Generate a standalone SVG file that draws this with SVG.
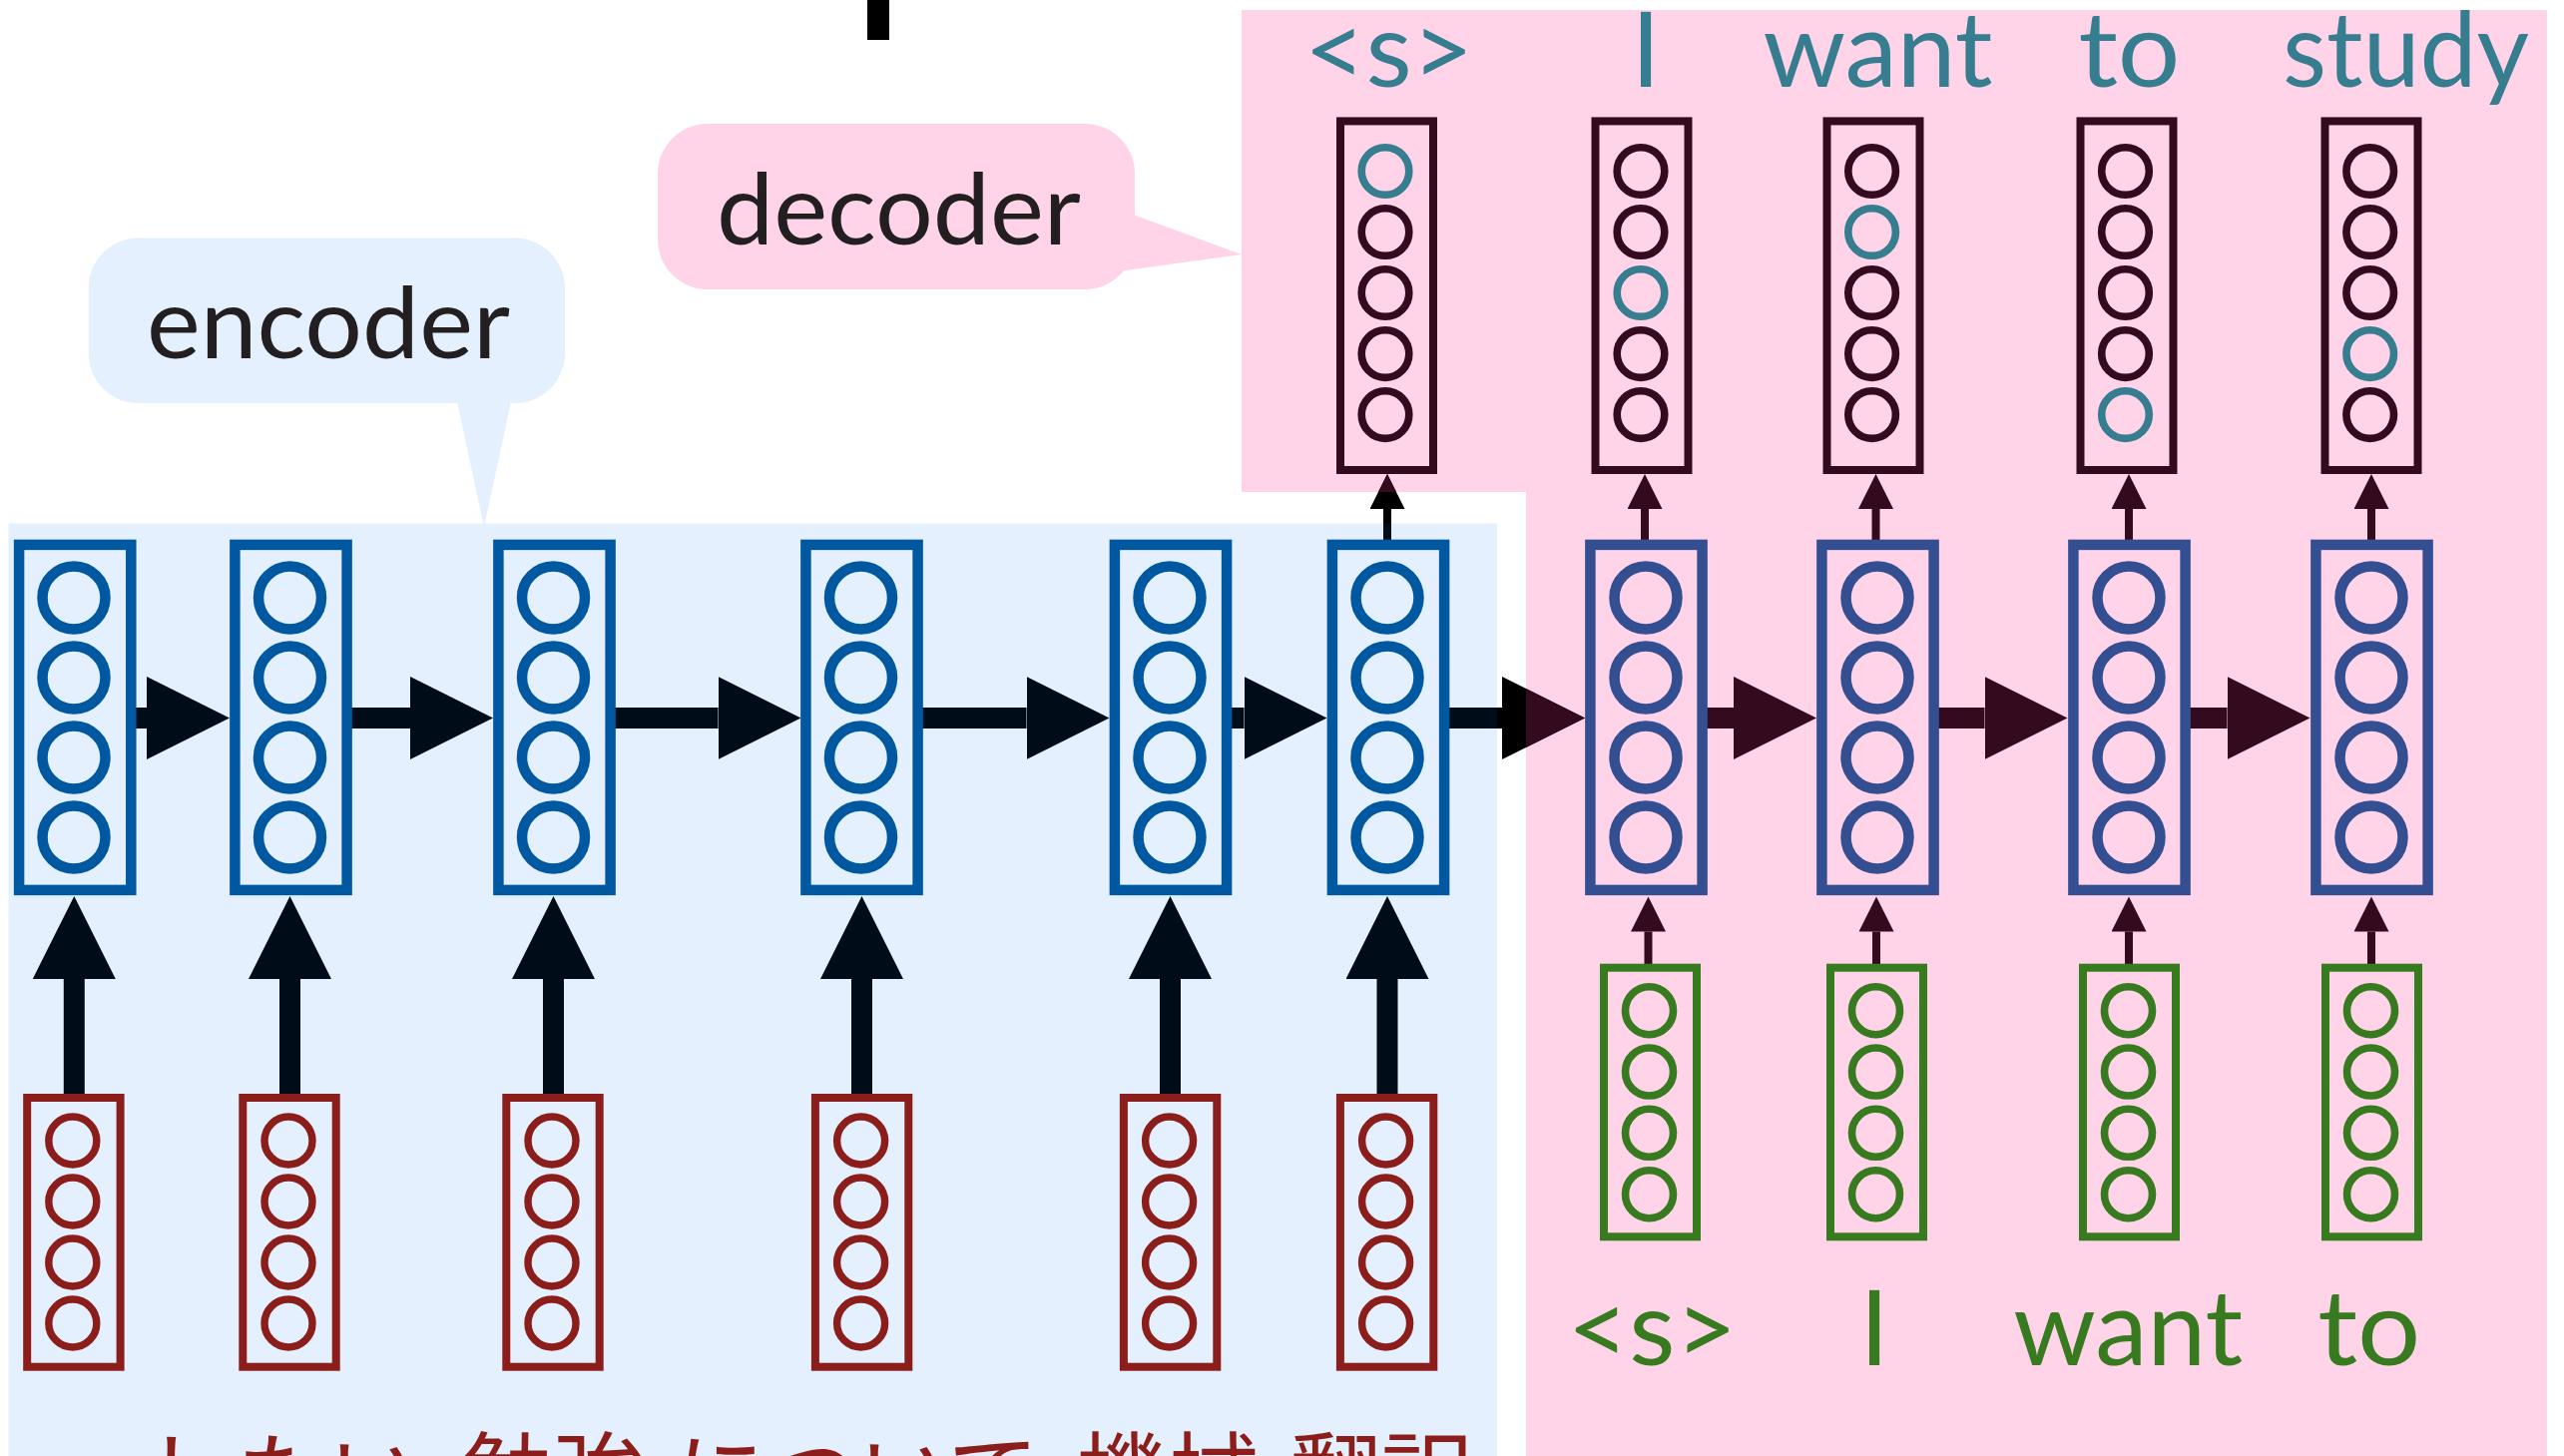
<svg xmlns="http://www.w3.org/2000/svg" width="2569" height="1459" viewBox="0 0 2569 1459">
  <style>
    .lat { font-family: Lato, "Open Sans", "Noto Sans", sans-serif; }
    .bubble-text { font-size: 98px; fill: #231f20; }
    .word { font-size: 104px; }
    .out-word { fill: #357d8f; }
    .in-word { fill: #377a1f; }
    .ja { font-family: "Noto Sans CJK JP", "Noto Sans CJK SC", sans-serif; font-size: 92px; fill: #8b1e1a; }
    .enc-box, .enc-unit { fill: none; stroke: #0059a0; stroke-width: 10.5; }
    .dec-box, .dec-unit { fill: none; stroke: #344e92; stroke-width: 10.5; }
    .src-box { fill: none; stroke: #8b1e1a; stroke-width: 8; }
    .src-unit { fill: none; stroke: #8b1e1a; stroke-width: 7.4; }
    .tgt-box { fill: none; stroke: #377a1f; stroke-width: 8; }
    .tgt-unit { fill: none; stroke: #377a1f; stroke-width: 7.6; }
    .out-box { fill: none; stroke: #330a1e; stroke-width: 8; }
    .out-unit { fill: none; stroke: #330a1e; stroke-width: 7.6; }
    .out-unit.hot { stroke: #357d8f; }
    .thick { stroke-width: 21; fill: none; }
    .thin { stroke-width: 8; fill: none; }
    .c-enc { stroke: #000d18; }
    .c-blk { stroke: #000000; }
    .c-dec { stroke: #330a1e; }
  </style>
  <defs>
    <marker id="headThickEnc" markerUnits="userSpaceOnUse" markerWidth="84" markerHeight="84" refX="0" refY="41.5" orient="auto">
      <path d="M0,0 L83,41.5 L0,83 Z" fill="#000d18"/>
    </marker>
    <marker id="headThickBlk" markerUnits="userSpaceOnUse" markerWidth="84" markerHeight="84" refX="0" refY="41.5" orient="auto">
      <path d="M0,0 L83,41.5 L0,83 Z" fill="#000000"/>
    </marker>
    <marker id="headThickDec" markerUnits="userSpaceOnUse" markerWidth="84" markerHeight="84" refX="0" refY="41.5" orient="auto">
      <path d="M0,0 L83,41.5 L0,83 Z" fill="#330a1e"/>
    </marker>
    <marker id="headThinEnc" markerUnits="userSpaceOnUse" markerWidth="36" markerHeight="36" refX="0" refY="17.5" orient="auto">
      <path d="M0,0 L35,17.5 L0,35 Z" fill="#000d18"/>
    </marker>
    <marker id="headThinBlk" markerUnits="userSpaceOnUse" markerWidth="36" markerHeight="36" refX="0" refY="17.5" orient="auto">
      <path d="M0,0 L35,17.5 L0,35 Z" fill="#000000"/>
    </marker>
    <marker id="headThinDec" markerUnits="userSpaceOnUse" markerWidth="36" markerHeight="36" refX="0" refY="17.5" orient="auto">
      <path d="M0,0 L35,17.5 L0,35 Z" fill="#330a1e"/>
    </marker>
    <clipPath id="clipBlue"><rect x="8.5" y="524.5" width="1491.5" height="940"/></clipPath>
    <clipPath id="clipPink"><polygon points="1244,10 2552,10 2552,1465 1529,1465 1529,493 1244,493"/></clipPath>
  </defs>

  <rect width="2569" height="1459" fill="#ffffff"/>

  <!-- shaded panels -->
  <g id="panels">
    <rect id="encoder-panel" x="8.5" y="524.5" width="1491.5" height="940" fill="#e4f0fd"/>
    <polygon id="decoder-panel" points="1244,10 2552,10 2552,1465 1529,1465 1529,493 1244,493" fill="#ffd4e8"/>
  </g>

  <rect id="top-bar" x="869" y="0" width="22" height="40" fill="#000000"/>

  <!-- callouts -->
  <g id="encoder-callout">
    <rect x="88.7" y="238.6" width="477.3" height="165.4" rx="50" fill="#e4f0fd"/>
    <polygon points="457,398 513,398 485,528" fill="#e4f0fd"/>
    <text class="lat bubble-text" x="329" y="359" text-anchor="middle" textLength="364" lengthAdjust="spacingAndGlyphs">encoder</text>
  </g>
  <g id="decoder-callout">
    <rect x="659" y="124" width="478" height="166" rx="50" fill="#ffd4e8"/>
    <polygon points="1130,213 1244,255 1120,272" fill="#ffd4e8"/>
    <text class="lat bubble-text" x="900.5" y="244.6" text-anchor="middle" textLength="365" lengthAdjust="spacingAndGlyphs">decoder</text>
  </g>

  <!-- connectors -->
  <g id="connectors">
    <!-- encoder recurrence -->
    <line class="thick c-enc" x1="136" y1="719.5" x2="147" y2="719.5" marker-end="url(#headThickEnc)"/>
    <line class="thick c-enc" x1="352" y1="719.5" x2="411" y2="719.5" marker-end="url(#headThickEnc)"/>
    <line class="thick c-enc" x1="616" y1="719.5" x2="719.5" y2="719.5" marker-end="url(#headThickEnc)"/>
    <line class="thick c-enc" x1="924" y1="719.5" x2="1028.5" y2="719.5" marker-end="url(#headThickEnc)"/>
    <line class="thick c-enc" x1="1234" y1="719.5" x2="1246.5" y2="719.5" marker-end="url(#headThickEnc)"/>
    <!-- encoder inputs -->
    <line class="thick c-enc" x1="74.3" y1="1097" x2="74.3" y2="981" marker-end="url(#headThickEnc)"/>
    <line class="thick c-enc" x1="290.5" y1="1097" x2="290.5" y2="981" marker-end="url(#headThickEnc)"/>
    <line class="thick c-enc" x1="554.5" y1="1097" x2="554.5" y2="981" marker-end="url(#headThickEnc)"/>
    <line class="thick c-enc" x1="863.5" y1="1097" x2="863.5" y2="981" marker-end="url(#headThickEnc)"/>
    <line class="thick c-enc" x1="1172.5" y1="1097" x2="1172.5" y2="981" marker-end="url(#headThickEnc)"/>
    <line class="thick c-enc" x1="1390" y1="1097" x2="1390" y2="981" marker-end="url(#headThickEnc)"/>
    <!-- hand-over from encoder to decoder: black on white, tinted inside the panels -->
    <g id="handover">
      <line class="thick c-blk" x1="1451" y1="719.5" x2="1505" y2="719.5" marker-end="url(#headThickBlk)"/>
      <line class="thin c-blk" x1="1390" y1="541" x2="1390" y2="510" marker-end="url(#headThinBlk)"/>
      <g clip-path="url(#clipBlue)">
        <line class="thick c-enc" x1="1451" y1="719.5" x2="1505" y2="719.5" marker-end="url(#headThickEnc)"/>
        <line class="thin c-enc" x1="1390" y1="541" x2="1390" y2="510" marker-end="url(#headThinEnc)"/>
      </g>
      <g clip-path="url(#clipPink)">
        <line class="thick c-dec" x1="1451" y1="719.5" x2="1505" y2="719.5" marker-end="url(#headThickDec)"/>
        <line class="thin c-dec" x1="1390" y1="541" x2="1390" y2="510" marker-end="url(#headThinDec)"/>
      </g>
    </g>
    <!-- decoder recurrence -->
    <line class="thick c-dec" x1="1710" y1="719.5" x2="1737" y2="719.5" marker-end="url(#headThickDec)"/>
    <line class="thick c-dec" x1="1942" y1="719.5" x2="1988.5" y2="719.5" marker-end="url(#headThickDec)"/>
    <line class="thick c-dec" x1="2194" y1="719.5" x2="2231.5" y2="719.5" marker-end="url(#headThickDec)"/>
    <!-- decoder inputs -->
    <line class="thin c-dec" x1="1651.5" y1="966" x2="1651.5" y2="933.5" marker-end="url(#headThinDec)"/>
    <line class="thin c-dec" x1="1880" y1="966" x2="1880" y2="933.5" marker-end="url(#headThinDec)"/>
    <line class="thin c-dec" x1="2133" y1="966" x2="2133" y2="933.5" marker-end="url(#headThinDec)"/>
    <line class="thin c-dec" x1="2376" y1="966" x2="2376" y2="933.5" marker-end="url(#headThinDec)"/>
    <!-- decoder outputs -->
    <line class="thin c-dec" x1="1648" y1="541" x2="1648" y2="510" marker-end="url(#headThinDec)"/>
    <line class="thin c-dec" x1="1879.5" y1="541" x2="1879.5" y2="510" marker-end="url(#headThinDec)"/>
    <line class="thin c-dec" x1="2133" y1="541" x2="2133" y2="510" marker-end="url(#headThinDec)"/>
    <line class="thin c-dec" x1="2376" y1="541" x2="2376" y2="510" marker-end="url(#headThinDec)"/>
  </g>

  <!-- encoder hidden states -->
  <g id="enc-h1"><rect class="enc-box" x="19.1" y="545.9" width="112.2" height="346"/>
    <circle class="enc-unit" cx="74" cy="599" r="31.5"/><circle class="enc-unit" cx="74" cy="679" r="31.5"/><circle class="enc-unit" cx="74" cy="759" r="31.5"/><circle class="enc-unit" cx="74" cy="839" r="31.5"/></g>
  <g id="enc-h2"><rect class="enc-box" x="235.4" y="545.9" width="112.2" height="346"/>
    <circle class="enc-unit" cx="290.5" cy="599" r="31.5"/><circle class="enc-unit" cx="290.5" cy="679" r="31.5"/><circle class="enc-unit" cx="290.5" cy="759" r="31.5"/><circle class="enc-unit" cx="290.5" cy="839" r="31.5"/></g>
  <g id="enc-h3"><rect class="enc-box" x="499.4" y="545.9" width="112.2" height="346"/>
    <circle class="enc-unit" cx="554.5" cy="599" r="31.5"/><circle class="enc-unit" cx="554.5" cy="679" r="31.5"/><circle class="enc-unit" cx="554.5" cy="759" r="31.5"/><circle class="enc-unit" cx="554.5" cy="839" r="31.5"/></g>
  <g id="enc-h4"><rect class="enc-box" x="807.4" y="545.9" width="112.2" height="346"/>
    <circle class="enc-unit" cx="862.5" cy="599" r="31.5"/><circle class="enc-unit" cx="862.5" cy="679" r="31.5"/><circle class="enc-unit" cx="862.5" cy="759" r="31.5"/><circle class="enc-unit" cx="862.5" cy="839" r="31.5"/></g>
  <g id="enc-h5"><rect class="enc-box" x="1116.9" y="545.9" width="112.2" height="346"/>
    <circle class="enc-unit" cx="1172" cy="599" r="31.5"/><circle class="enc-unit" cx="1172" cy="679" r="31.5"/><circle class="enc-unit" cx="1172" cy="759" r="31.5"/><circle class="enc-unit" cx="1172" cy="839" r="31.5"/></g>
  <g id="enc-h6"><rect class="enc-box" x="1334.9" y="545.9" width="112.2" height="346"/>
    <circle class="enc-unit" cx="1390" cy="599" r="31.5"/><circle class="enc-unit" cx="1390" cy="679" r="31.5"/><circle class="enc-unit" cx="1390" cy="759" r="31.5"/><circle class="enc-unit" cx="1390" cy="839" r="31.5"/></g>

  <!-- source word vectors -->
  <g id="src-1"><rect class="src-box" x="27.2" y="1100" width="93.4" height="269.7"/>
    <circle class="src-unit" cx="72.8" cy="1143" r="24"/><circle class="src-unit" cx="72.8" cy="1204" r="24"/><circle class="src-unit" cx="72.8" cy="1265" r="24"/><circle class="src-unit" cx="72.8" cy="1326" r="24"/></g>
  <g id="src-2"><rect class="src-box" x="243.3" y="1100" width="93.4" height="269.7"/>
    <circle class="src-unit" cx="289" cy="1143" r="24"/><circle class="src-unit" cx="289" cy="1204" r="24"/><circle class="src-unit" cx="289" cy="1265" r="24"/><circle class="src-unit" cx="289" cy="1326" r="24"/></g>
  <g id="src-3"><rect class="src-box" x="507.3" y="1100" width="93.4" height="269.7"/>
    <circle class="src-unit" cx="553" cy="1143" r="24"/><circle class="src-unit" cx="553" cy="1204" r="24"/><circle class="src-unit" cx="553" cy="1265" r="24"/><circle class="src-unit" cx="553" cy="1326" r="24"/></g>
  <g id="src-4"><rect class="src-box" x="816.9" y="1100" width="93.4" height="269.7"/>
    <circle class="src-unit" cx="862.6" cy="1143" r="24"/><circle class="src-unit" cx="862.6" cy="1204" r="24"/><circle class="src-unit" cx="862.6" cy="1265" r="24"/><circle class="src-unit" cx="862.6" cy="1326" r="24"/></g>
  <g id="src-5"><rect class="src-box" x="1125.9" y="1100" width="93.4" height="269.7"/>
    <circle class="src-unit" cx="1171.6" cy="1143" r="24"/><circle class="src-unit" cx="1171.6" cy="1204" r="24"/><circle class="src-unit" cx="1171.6" cy="1265" r="24"/><circle class="src-unit" cx="1171.6" cy="1326" r="24"/></g>
  <g id="src-6"><rect class="src-box" x="1342.9" y="1100" width="93.4" height="269.7"/>
    <circle class="src-unit" cx="1388.6" cy="1143" r="24"/><circle class="src-unit" cx="1388.6" cy="1204" r="24"/><circle class="src-unit" cx="1388.6" cy="1265" r="24"/><circle class="src-unit" cx="1388.6" cy="1326" r="24"/></g>

  <!-- decoder hidden states -->
  <g id="dec-h1"><rect class="dec-box" x="1593.4" y="545.9" width="112.2" height="346"/>
    <circle class="dec-unit" cx="1649" cy="599" r="31.5"/><circle class="dec-unit" cx="1649" cy="679" r="31.5"/><circle class="dec-unit" cx="1649" cy="759" r="31.5"/><circle class="dec-unit" cx="1649" cy="839" r="31.5"/></g>
  <g id="dec-h2"><rect class="dec-box" x="1825.4" y="545.9" width="112.2" height="346"/>
    <circle class="dec-unit" cx="1881" cy="599" r="31.5"/><circle class="dec-unit" cx="1881" cy="679" r="31.5"/><circle class="dec-unit" cx="1881" cy="759" r="31.5"/><circle class="dec-unit" cx="1881" cy="839" r="31.5"/></g>
  <g id="dec-h3"><rect class="dec-box" x="2077.4" y="545.9" width="112.2" height="346"/>
    <circle class="dec-unit" cx="2133" cy="599" r="31.5"/><circle class="dec-unit" cx="2133" cy="679" r="31.5"/><circle class="dec-unit" cx="2133" cy="759" r="31.5"/><circle class="dec-unit" cx="2133" cy="839" r="31.5"/></g>
  <g id="dec-h4"><rect class="dec-box" x="2320.4" y="545.9" width="112.2" height="346"/>
    <circle class="dec-unit" cx="2376" cy="599" r="31.5"/><circle class="dec-unit" cx="2376" cy="679" r="31.5"/><circle class="dec-unit" cx="2376" cy="759" r="31.5"/><circle class="dec-unit" cx="2376" cy="839" r="31.5"/></g>

  <!-- target word vectors -->
  <g id="tgt-1"><rect class="tgt-box" x="1607" y="969.7" width="93" height="269.6"/>
    <circle class="tgt-unit" cx="1652.5" cy="1012.7" r="24"/><circle class="tgt-unit" cx="1652.5" cy="1074" r="24"/><circle class="tgt-unit" cx="1652.5" cy="1135.3" r="24"/><circle class="tgt-unit" cx="1652.5" cy="1196.7" r="24"/></g>
  <g id="tgt-2"><rect class="tgt-box" x="1834" y="969.7" width="93" height="269.6"/>
    <circle class="tgt-unit" cx="1879.5" cy="1012.7" r="24"/><circle class="tgt-unit" cx="1879.5" cy="1074" r="24"/><circle class="tgt-unit" cx="1879.5" cy="1135.3" r="24"/><circle class="tgt-unit" cx="1879.5" cy="1196.7" r="24"/></g>
  <g id="tgt-3"><rect class="tgt-box" x="2087" y="969.7" width="93" height="269.6"/>
    <circle class="tgt-unit" cx="2132.5" cy="1012.7" r="24"/><circle class="tgt-unit" cx="2132.5" cy="1074" r="24"/><circle class="tgt-unit" cx="2132.5" cy="1135.3" r="24"/><circle class="tgt-unit" cx="2132.5" cy="1196.7" r="24"/></g>
  <g id="tgt-4"><rect class="tgt-box" x="2330" y="969.7" width="93" height="269.6"/>
    <circle class="tgt-unit" cx="2375.5" cy="1012.7" r="24"/><circle class="tgt-unit" cx="2375.5" cy="1074" r="24"/><circle class="tgt-unit" cx="2375.5" cy="1135.3" r="24"/><circle class="tgt-unit" cx="2375.5" cy="1196.7" r="24"/></g>

  <!-- output distributions -->
  <g id="out-1"><rect class="out-box" x="1343" y="121.4" width="93" height="349.6"/>
    <circle class="out-unit hot" cx="1388" cy="171.5" r="23.8"/><circle class="out-unit" cx="1388" cy="232.5" r="23.8"/><circle class="out-unit" cx="1388" cy="293.5" r="23.8"/><circle class="out-unit" cx="1388" cy="354.6" r="23.8"/><circle class="out-unit" cx="1388" cy="415.6" r="23.8"/></g>
  <g id="out-2"><rect class="out-box" x="1598.5" y="121.4" width="93" height="349.6"/>
    <circle class="out-unit" cx="1644" cy="171.5" r="23.8"/><circle class="out-unit" cx="1644" cy="232.5" r="23.8"/><circle class="out-unit hot" cx="1644" cy="293.5" r="23.8"/><circle class="out-unit" cx="1644" cy="354.6" r="23.8"/><circle class="out-unit" cx="1644" cy="415.6" r="23.8"/></g>
  <g id="out-3"><rect class="out-box" x="1830.5" y="121.4" width="93" height="349.6"/>
    <circle class="out-unit" cx="1875.6" cy="171.5" r="23.8"/><circle class="out-unit hot" cx="1875.6" cy="232.5" r="23.8"/><circle class="out-unit" cx="1875.6" cy="293.5" r="23.8"/><circle class="out-unit" cx="1875.6" cy="354.6" r="23.8"/><circle class="out-unit" cx="1875.6" cy="415.6" r="23.8"/></g>
  <g id="out-4"><rect class="out-box" x="2084.5" y="121.4" width="93" height="349.6"/>
    <circle class="out-unit" cx="2129.5" cy="171.5" r="23.8"/><circle class="out-unit" cx="2129.5" cy="232.5" r="23.8"/><circle class="out-unit" cx="2129.5" cy="293.5" r="23.8"/><circle class="out-unit" cx="2129.5" cy="354.6" r="23.8"/><circle class="out-unit hot" cx="2129.5" cy="415.6" r="23.8"/></g>
  <g id="out-5"><rect class="out-box" x="2329.5" y="121.4" width="93" height="349.6"/>
    <circle class="out-unit" cx="2374.7" cy="171.5" r="23.8"/><circle class="out-unit" cx="2374.7" cy="232.5" r="23.8"/><circle class="out-unit" cx="2374.7" cy="293.5" r="23.8"/><circle class="out-unit hot" cx="2374.7" cy="354.6" r="23.8"/><circle class="out-unit" cx="2374.7" cy="415.6" r="23.8"/></g>

  <!-- output words -->
  <g id="output-words" class="lat word out-word" text-anchor="middle">
    <text x="1391.5" y="87" textLength="170" lengthAdjust="spacingAndGlyphs">&lt;s&gt;</text>
    <text x="1649" y="87">I</text>
    <text x="1881.5" y="87" textLength="230" lengthAdjust="spacingAndGlyphs">want</text>
    <text x="2133.4" y="87" textLength="102" lengthAdjust="spacingAndGlyphs">to</text>
    <text x="2410.5" y="87" textLength="247" lengthAdjust="spacingAndGlyphs">study</text>
  </g>

  <!-- decoder input words -->
  <g id="input-words" class="lat word in-word" text-anchor="middle">
    <text x="1655.3" y="1367.7" textLength="170" lengthAdjust="spacingAndGlyphs">&lt;s&gt;</text>
    <text x="1878" y="1367.7">I</text>
    <text x="2132.2" y="1367.7" textLength="230" lengthAdjust="spacingAndGlyphs">want</text>
    <text x="2373.8" y="1367.7" textLength="103" lengthAdjust="spacingAndGlyphs">to</text>
  </g>

  <!-- source sentence (reversed word order) -->
  <g id="source-sentence" class="ja">
    <text x="145" y="1512">したい</text>
    <text x="462" y="1512">勉強</text>
    <text x="676" y="1512">について</text>
    <text x="1078" y="1512">機械</text>
    <text x="1292" y="1512">翻訳</text>
  </g>
</svg>
